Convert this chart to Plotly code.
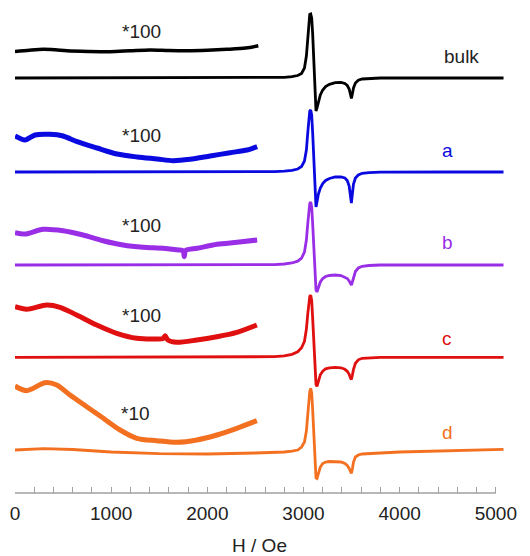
import plotly.graph_objects as go

# ---- data (intensity in arbitrary units; traces stacked with offsets) ----
H_MAIN = [0, 300, 600, 1000, 1500, 2000, 2500, 2700, 2800, 2880, 2940, 2980, 3010, 3030,
          3045, 3055, 3065, 3075, 3085, 3095, 3105, 3115, 3124, 3130, 3140, 3155, 3175,
          3200, 3230, 3270, 3330, 3390, 3430, 3455, 3475, 3490, 3498, 3508, 3520, 3540,
          3570, 3610, 3680, 3800, 4000, 4500, 5080]

bulk_sig = [0, 0, 0, 0, 0, 0, 0, 0.3, 0.7, 1.3, 2.5, 4.5, 10, 22, 42, 57, 63.5, 64, 60, 45,
            22, 2, -20, -33, -30, -23, -17, -12, -8.5, -6.3, -4.6, -4.5, -5.5, -7.5, -11,
            -17, -20.5, -16, -10, -5, -2.2, -1, -0.4, 0, 0, 0, 0]
a_sig = [0, 0, 0, 0, 0, 0, 0, 0.3, 0.8, 1.6, 3, 5.5, 11, 22, 40, 54, 61, 62, 57, 40, 15,
         -10, -30, -35, -30, -22, -16, -11.5, -8.5, -6.5, -5, -5, -6, -8.5, -14, -25, -31,
         -22, -12, -6, -3, -1.3, -0.6, -0.2, 0, 0, 0]
b_sig = [0, 0, 0, 0, 0, 0, 0, 0.4, 1, 2, 3.8, 7, 13, 25, 42, 55, 61.5, 63, 58, 42, 20, 0,
         -17, -25, -27, -22, -17, -13.5, -11.5, -10.5, -10, -10.5, -12, -13.5, -16, -19, -20,
         -17, -12, -6.5, -3, -1.3, -0.5, 0, 0, 0, 0]
c_sig = [0, 0, 0, 0, 0, 0, 0, 0.6, 1.5, 3, 5.5, 9.5, 16, 28, 44, 55, 61, 62, 57, 40, 18, -2,
         -20, -27, -29, -23, -17.5, -14, -11.5, -10.5, -10, -10.5, -12, -14, -17, -21, -22,
         -18, -12, -6, -2.5, -1, -0.4, 0, 0, 0, 0]
d_sig = [3, 4.3, 3.5, 1, -0.7, -1, 0, 0.5, 1, 1.8, 3, 6, 11, 22, 40, 53, 61.5, 64.7, 60, 44,
         22, 0, -18, -25, -25.5, -20, -14, -10.5, -9, -8.5, -8.5, -9, -10.5, -12.5, -15.5,
         -19, -20.3, -16, -9, -4, -2, -1, -0.5, 0, 1, 2, 3.7]

offsets = {"bulk": 415, "a": 321, "b": 228, "c": 135.7, "d": 40}

# magnified low-field segments
H_bulk_x = [0, 150, 295, 420, 538, 760, 988, 1200, 1405, 1600, 1787, 2000, 2203, 2400, 2530]
bulk_x = [441.5, 442.8, 443.7, 443.2, 442.3, 441.6, 441.3, 442.2, 443, 442.5, 442.3, 442.8,
          443.7, 445, 447.3]

H_a_x = [0, 104, 208, 364, 500, 645, 853, 1061, 1270, 1478, 1644, 1821, 2029, 2237, 2414, 2518]
a_x = [357, 353, 358, 358.7, 357, 351.3, 345, 339, 336, 334, 332.3, 333.7, 337, 340.3, 343, 346.3]

H_b_x = [0, 104, 291, 500, 708, 916, 1124, 1332, 1540, 1700, 1748, 1760, 1775, 1894, 2102, 2310, 2518]
b_x = [260.3, 259, 263.7, 262.3, 258, 252.3, 248, 245.7, 244.7, 243, 242.3, 236.3, 242.5, 244.7,
       248.7, 250.7, 253]

H_c_x = [0, 121, 330, 468, 642, 850, 1058, 1266, 1474, 1540, 1561, 1590, 1682, 1890, 2099, 2307, 2515]
c_x = [186.3, 183.7, 188, 185.7, 178, 168, 159.7, 154.7, 154, 154.5, 157.3, 153, 150.7, 153,
       156.3, 160.7, 168]

H_d_x = [0, 121, 312, 434, 572, 746, 919, 1093, 1266, 1474, 1682, 1890, 2099, 2307, 2515]
d_x = [107, 102.3, 110.3, 108, 98, 86.3, 74.7, 63, 54.7, 52.3, 50.7, 53, 58, 64.7, 72.3]

names = ["bulk", "a", "b", "c", "d"]
colors = {"bulk": "#000000", "a": "#0a0ae0", "b": "#9a2ee6", "c": "#e01010", "d": "#f37021"}
signals = {"bulk": bulk_sig, "a": a_sig, "b": b_sig, "c": c_sig, "d": d_sig}
mag = {"bulk": (H_bulk_x, bulk_x), "a": (H_a_x, a_x), "b": (H_b_x, b_x),
       "c": (H_c_x, c_x), "d": (H_d_x, d_x)}
mag_labels = {"bulk": ("*100", 1316, 461.6), "a": ("*100", 1316, 358),
              "b": ("*100", 1316, 268), "c": ("*100", 1316, 178), "d": ("*10", 1249, 79.6)}
name_pos = {"bulk": (4641, 436.6), "a": (4495, 342.3), "b": (4495, 250.6),
            "c": (4495, 154.6), "d": (4495, 60.3)}

fig = go.Figure()
for n in names:
    hx, yx = mag[n]
    w = 3.5 if n == "bulk" else 5
    fig.add_trace(go.Scatter(x=hx, y=yx, mode="lines",
                             line=dict(color=colors[n], width=w, shape="spline", smoothing=0.8),
                             showlegend=False))
    fig.add_trace(go.Scatter(x=H_MAIN, y=[offsets[n] + s for s in signals[n]], mode="lines",
                             line=dict(color=colors[n], width=2.8), showlegend=False))

FONT = "Liberation Sans, Arial, sans-serif"
for n in names:
    t, x, y = mag_labels[n]
    fig.add_annotation(x=x, y=y, text=t, showarrow=False,
                       font=dict(family=FONT, size=19, color="#222222"))
    x, y = name_pos[n]
    fig.add_annotation(x=x, y=y, text=n, showarrow=False,
                       font=dict(family=FONT, size=19,
                                 color="#222222" if n == "bulk" else colors[n]))

# axis line (only up to 5000, spectra extend slightly beyond)
fig.add_shape(type="line", xref="x", yref="paper", x0=0, x1=5000, y0=0, y1=0,
              line=dict(color="#a0a0a0", width=1.3))

fig.update_layout(
    width=530, height=556,
    margin=dict(l=15, r=26.3, t=0, b=63),
    paper_bgcolor="white", plot_bgcolor="white",
    font=dict(family=FONT, size=19, color="#222222"),
    xaxis=dict(range=[0, 5085], tickvals=[0, 1000, 2000, 3000, 4000, 5000],
               ticks="inside", ticklen=6, tickcolor="#a0a0a0", tickwidth=1.3,
               ticklabelstandoff=7,
               minor=dict(tickvals=[v for v in range(200, 5000, 200) if v % 1000],
                          ticks="inside", ticklen=6, tickcolor="#a0a0a0", tickwidth=1.3),
               showline=False, showgrid=False, zeroline=False, automargin=False,
               tickfont=dict(family=FONT, size=19, color="#222222"),
               title=dict(text="H / Oe", standoff=16,
                          font=dict(family=FONT, size=19, color="#222222"))),
    yaxis=dict(range=[0, 493], visible=False, showgrid=False, zeroline=False),
)

fig.write_html("out.html")
